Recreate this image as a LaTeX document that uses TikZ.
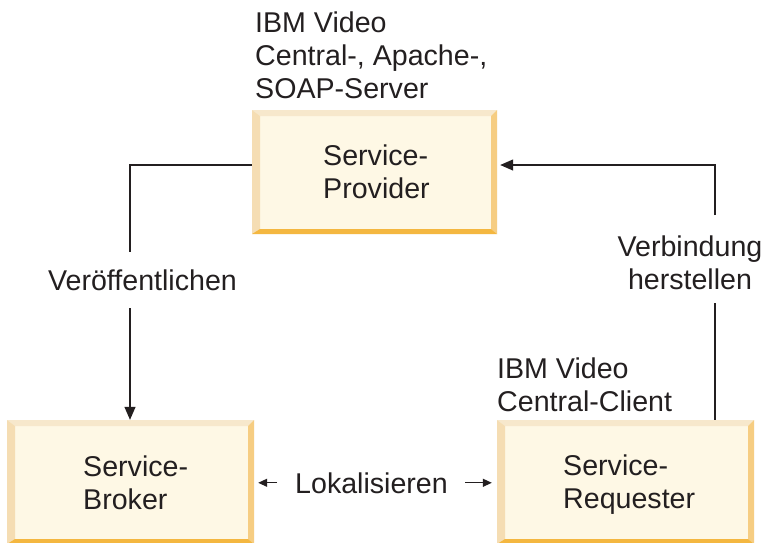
\documentclass[tikz,border=0pt]{standalone}
\usepackage{fontspec}
\setmainfont{Liberation Sans}
\usetikzlibrary{calc,arrows.meta}
\definecolor{boxfill}{HTML}{FEF8E5}
\definecolor{beveltop}{HTML}{F7E8CC}
\definecolor{bevelleft}{HTML}{F5DDB3}
\definecolor{bevelright}{HTML}{F6CD82}
\definecolor{bevelbottom}{HTML}{F4B740}
\definecolor{ink}{HTML}{231F20}
\tikzset{
  bevelbox/.style={rectangle, inner sep=0pt, fill=boxfill,
    path picture={
      \coordinate (bnw) at (path picture bounding box.north west);
      \coordinate (bne) at (path picture bounding box.north east);
      \coordinate (bsw) at (path picture bounding box.south west);
      \coordinate (bse) at (path picture bounding box.south east);
      \fill[beveltop] (bnw) -- (bne) -- ($(bne)+(-6pt,-6pt)$) -- ($(bnw)+(8pt,-6pt)$) -- cycle;
      \fill[bevelleft] (bnw) -- ($(bnw)+(8pt,-6pt)$) -- ($(bsw)+(8pt,5pt)$) -- (bsw) -- cycle;
      \fill[bevelright] (bne) -- ($(bne)+(-6pt,-6pt)$) -- ($(bse)+(-6pt,5pt)$) -- (bse) -- cycle;
      \fill[bevelbottom] (bsw) -- ($(bsw)+(8pt,5pt)$) -- ($(bse)+(-6pt,5pt)$) -- (bse) -- cycle;
    }},
  txt/.style={inner sep=0pt, text=ink, font=\fontsize{28.6}{33}\selectfont},
  conn/.style={draw=ink, line width=1.2pt},
  bigtip/.style={-{Triangle[length=13pt,width=11pt]}},
  smalltip/.style={-{Triangle[length=9pt,width=8pt]}}
}
\begin{document}
\begin{tikzpicture}[x=1pt,y=-1pt]
\useasboundingbox (0,0) rectangle (765,542);
\fill[white] (0,0) rectangle (765,542);

% boxes
\node[bevelbox, minimum width=245pt, minimum height=124pt] (provider) at (374.5,172) {};
\node[bevelbox, minimum width=247pt, minimum height=124pt] (broker) at (130.5,482) {};
\node[bevelbox, minimum width=257pt, minimum height=124pt] (requester) at (625.5,482) {};

% texts in boxes (base anchor = baseline of last line)
\node[txt, anchor=base west, align=left] (provtext) at (323,198) {Service-\\Provider};
\node[txt, anchor=base west, align=left] (brotext) at (83,509) {Service-\\Broker};
\node[txt, anchor=base west, align=left] (reqtext) at (563,508) {Service-\\Requester};

% outside labels
\node[txt, anchor=base west, align=left] (provlabel) at (255,98) {IBM Video\\Central-, Apache-,\\SOAP-Server};
\node[txt, anchor=base west, align=left] (reqlabel) at (497,411) {IBM Video\\Central-Client};
\node[txt, anchor=base] (publish) at (142.5,290) {Veröffentlichen};
\node[txt, anchor=base, align=center] (bind) at (690,289) {Verbindung\\herstellen};
\node[txt, anchor=base west] (locate) at (295,493) {Lokalisieren};

% connector coordinates
\coordinate (lcorner) at (130,165);
\coordinate (lgap1) at (130,252);
\coordinate (lgap2) at (130,308);
\coordinate (rcorner) at (715,165);
\coordinate (rgap1) at (715,215);
\coordinate (rgap2) at (715,303);

% publish
\draw[conn] (provider.west |- lcorner) -- (lcorner) -- (lgap1);
\draw[conn, bigtip] (lgap2) -- (lgap2 |- broker.north);

% bind
\draw[conn] (rgap2 |- requester.north) -- (rgap2);
\draw[conn, bigtip, shorten >=3pt] (rgap1) -- (rcorner) -- (rcorner -| provider.east);

% locate
\draw[conn, smalltip, shorten <=18pt, shorten >=4pt] (locate.west) -- (locate.west -| broker.east);
\draw[conn, smalltip, shorten <=17pt, shorten >=5pt] (locate.east) -- (locate.east -| requester.west);
\end{tikzpicture}
\end{document}
